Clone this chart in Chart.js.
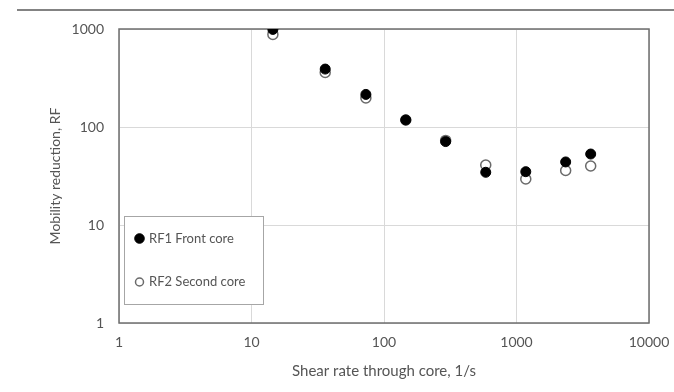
<!DOCTYPE html>
<html>
<head>
<meta charset="utf-8">
<script src="https://cdn.jsdelivr.net/npm/chart.js@4/dist/chart.umd.min.js"></script>
<style>
  html, body { margin: 0; padding: 0; background: #ffffff; }
  #wrap { width: 674px; height: 392px; position: relative; }
</style>
</head>
<body>
<div id="wrap"><canvas id="c" width="674" height="392"></canvas></div>
<script>
// ---- Data ----
const shearRate = [14.5, 36, 73, 146, 292, 586, 1175, 2350, 3630];
const rf1Front  = [990, 390, 215, 118, 71, 34.5, 35, 44, 53];
const rf2Second = [880, 360, 198, 118, 73, 41, 29.5, 36, 40];
const seriesNames = ['RF1 Front core', 'RF2 Second core'];
const xTickValues = [1, 10, 100, 1000, 10000];
const yTickValues = [1, 10, 100, 1000];
const xTitle = 'Shear rate through core, 1/s';
const yTitle = 'Mobility reduction, RF';

const FONT = 'Lato, "Open Sans", "DejaVu Sans", sans-serif';
const TEXT = '#555555';

function toPoints(xs, ys) { return xs.map((x, i) => ({ x: x, y: ys[i] })); }

// Frame + top rule, drawn before the datasets so markers sit on top
const framePlugin = {
  id: 'frame',
  beforeDraw(chart) {
    const ctx = chart.ctx;
    ctx.save();
    ctx.fillStyle = '#ffffff';
    ctx.fillRect(0, 0, chart.width, chart.height);
    ctx.strokeStyle = '#5a5a5a';
    ctx.lineWidth = 1.5;
    ctx.beginPath();
    ctx.moveTo(17, 10);
    ctx.lineTo(674, 10);
    ctx.stroke();
    ctx.restore();
  },
  beforeDatasetsDraw(chart) {
    const a = chart.chartArea;
    const ctx = chart.ctx;
    ctx.save();
    ctx.strokeStyle = '#6e6e6e';
    ctx.lineWidth = 1.5;
    ctx.strokeRect(a.left, a.top, a.right - a.left, a.bottom - a.top);
    ctx.restore();
  }
};

// Legend box inside plot area, built from the datasets
const legendPlugin = {
  id: 'boxLegend',
  afterDatasetsDraw(chart) {
    const ctx = chart.ctx;
    const a = chart.chartArea;
    const bx = a.left + 5, by = 216, bw = 139, bh = 88;
    ctx.save();
    ctx.fillStyle = '#ffffff';
    ctx.fillRect(bx, by, bw, bh);
    ctx.strokeStyle = '#a6a6a6';
    ctx.lineWidth = 1;
    ctx.strokeRect(bx + 0.5, by + 0.5, bw, bh);
    const rows = [238.5, 282];
    chart.data.datasets.forEach((ds, i) => {
      const cy = rows[i];
      ctx.beginPath();
      ctx.arc(139.5, cy, i === 0 ? 4.8 : 4, 0, Math.PI * 2);
      ctx.fillStyle = ds.backgroundColor;
      ctx.fill();
      ctx.lineWidth = ds.borderWidth;
      ctx.strokeStyle = ds.borderColor;
      ctx.stroke();
      ctx.fillStyle = TEXT;
      ctx.font = '13px ' + FONT;
      ctx.textBaseline = 'middle';
      ctx.textAlign = 'left';
      ctx.fillText(ds.label, 149, cy);
    });
    ctx.restore();
  }
};

function zeroPad(scale) {
  scale.paddingLeft = 0; scale.paddingRight = 0;
  scale.paddingTop = 0; scale.paddingBottom = 0;
}

new Chart(document.getElementById('c'), {
  type: 'scatter',
  data: {
    datasets: [
      {
        label: seriesNames[0],
        data: toPoints(shearRate, rf1Front),
        backgroundColor: '#000000',
        borderColor: '#000000',
        borderWidth: 1,
        pointRadius: 5,
        pointHoverRadius: 5
      },
      {
        label: seriesNames[1],
        data: toPoints(shearRate, rf2Second),
        backgroundColor: '#ffffff',
        borderColor: '#6a6a6a',
        borderWidth: 1.5,
        pointRadius: 5,
        pointHoverRadius: 5
      }
    ]
  },
  options: {
    responsive: false,
    animation: false,
    devicePixelRatio: 1,
    layout: { padding: { left: 0, right: 25, top: 29, bottom: 0 } },
    plugins: {
      legend: { display: false },
      tooltip: { enabled: false }
    },
    scales: {
      x: {
        type: 'logarithmic',
        position: 'bottom',
        min: 1,
        max: 10000,
        afterBuildTicks(scale) { scale.ticks = xTickValues.map(v => ({ value: v })); },
        afterFit(scale) { scale.height = 69; zeroPad(scale); },
        ticks: {
          callback: (v) => String(v),
          color: TEXT,
          font: { family: FONT, size: 14 },
          padding: 11,
          maxRotation: 0,
          autoSkip: false
        },
        grid: { color: '#d9d9d9', lineWidth: 1, drawTicks: false },
        border: { display: false },
        title: {
          display: true,
          text: xTitle,
          color: TEXT,
          font: { family: FONT, size: 15 },
          padding: { top: 0, bottom: 12 }
        }
      },
      y: {
        type: 'logarithmic',
        position: 'left',
        min: 1,
        max: 1000,
        afterBuildTicks(scale) { scale.ticks = yTickValues.map(v => ({ value: v })); },
        afterFit(scale) { scale.width = 119; zeroPad(scale); },
        ticks: {
          callback: (v) => String(v),
          color: TEXT,
          font: { family: FONT, size: 14 },
          padding: 15,
          autoSkip: false
        },
        grid: { color: '#d9d9d9', lineWidth: 1, drawTicks: false },
        border: { display: false },
        title: {
          display: true,
          text: yTitle,
          color: TEXT,
          font: { family: FONT, size: 14 },
          padding: { top: 47, bottom: 0 }
        }
      }
    }
  },
  plugins: [framePlugin, legendPlugin]
});
</script>
</body>
</html>
